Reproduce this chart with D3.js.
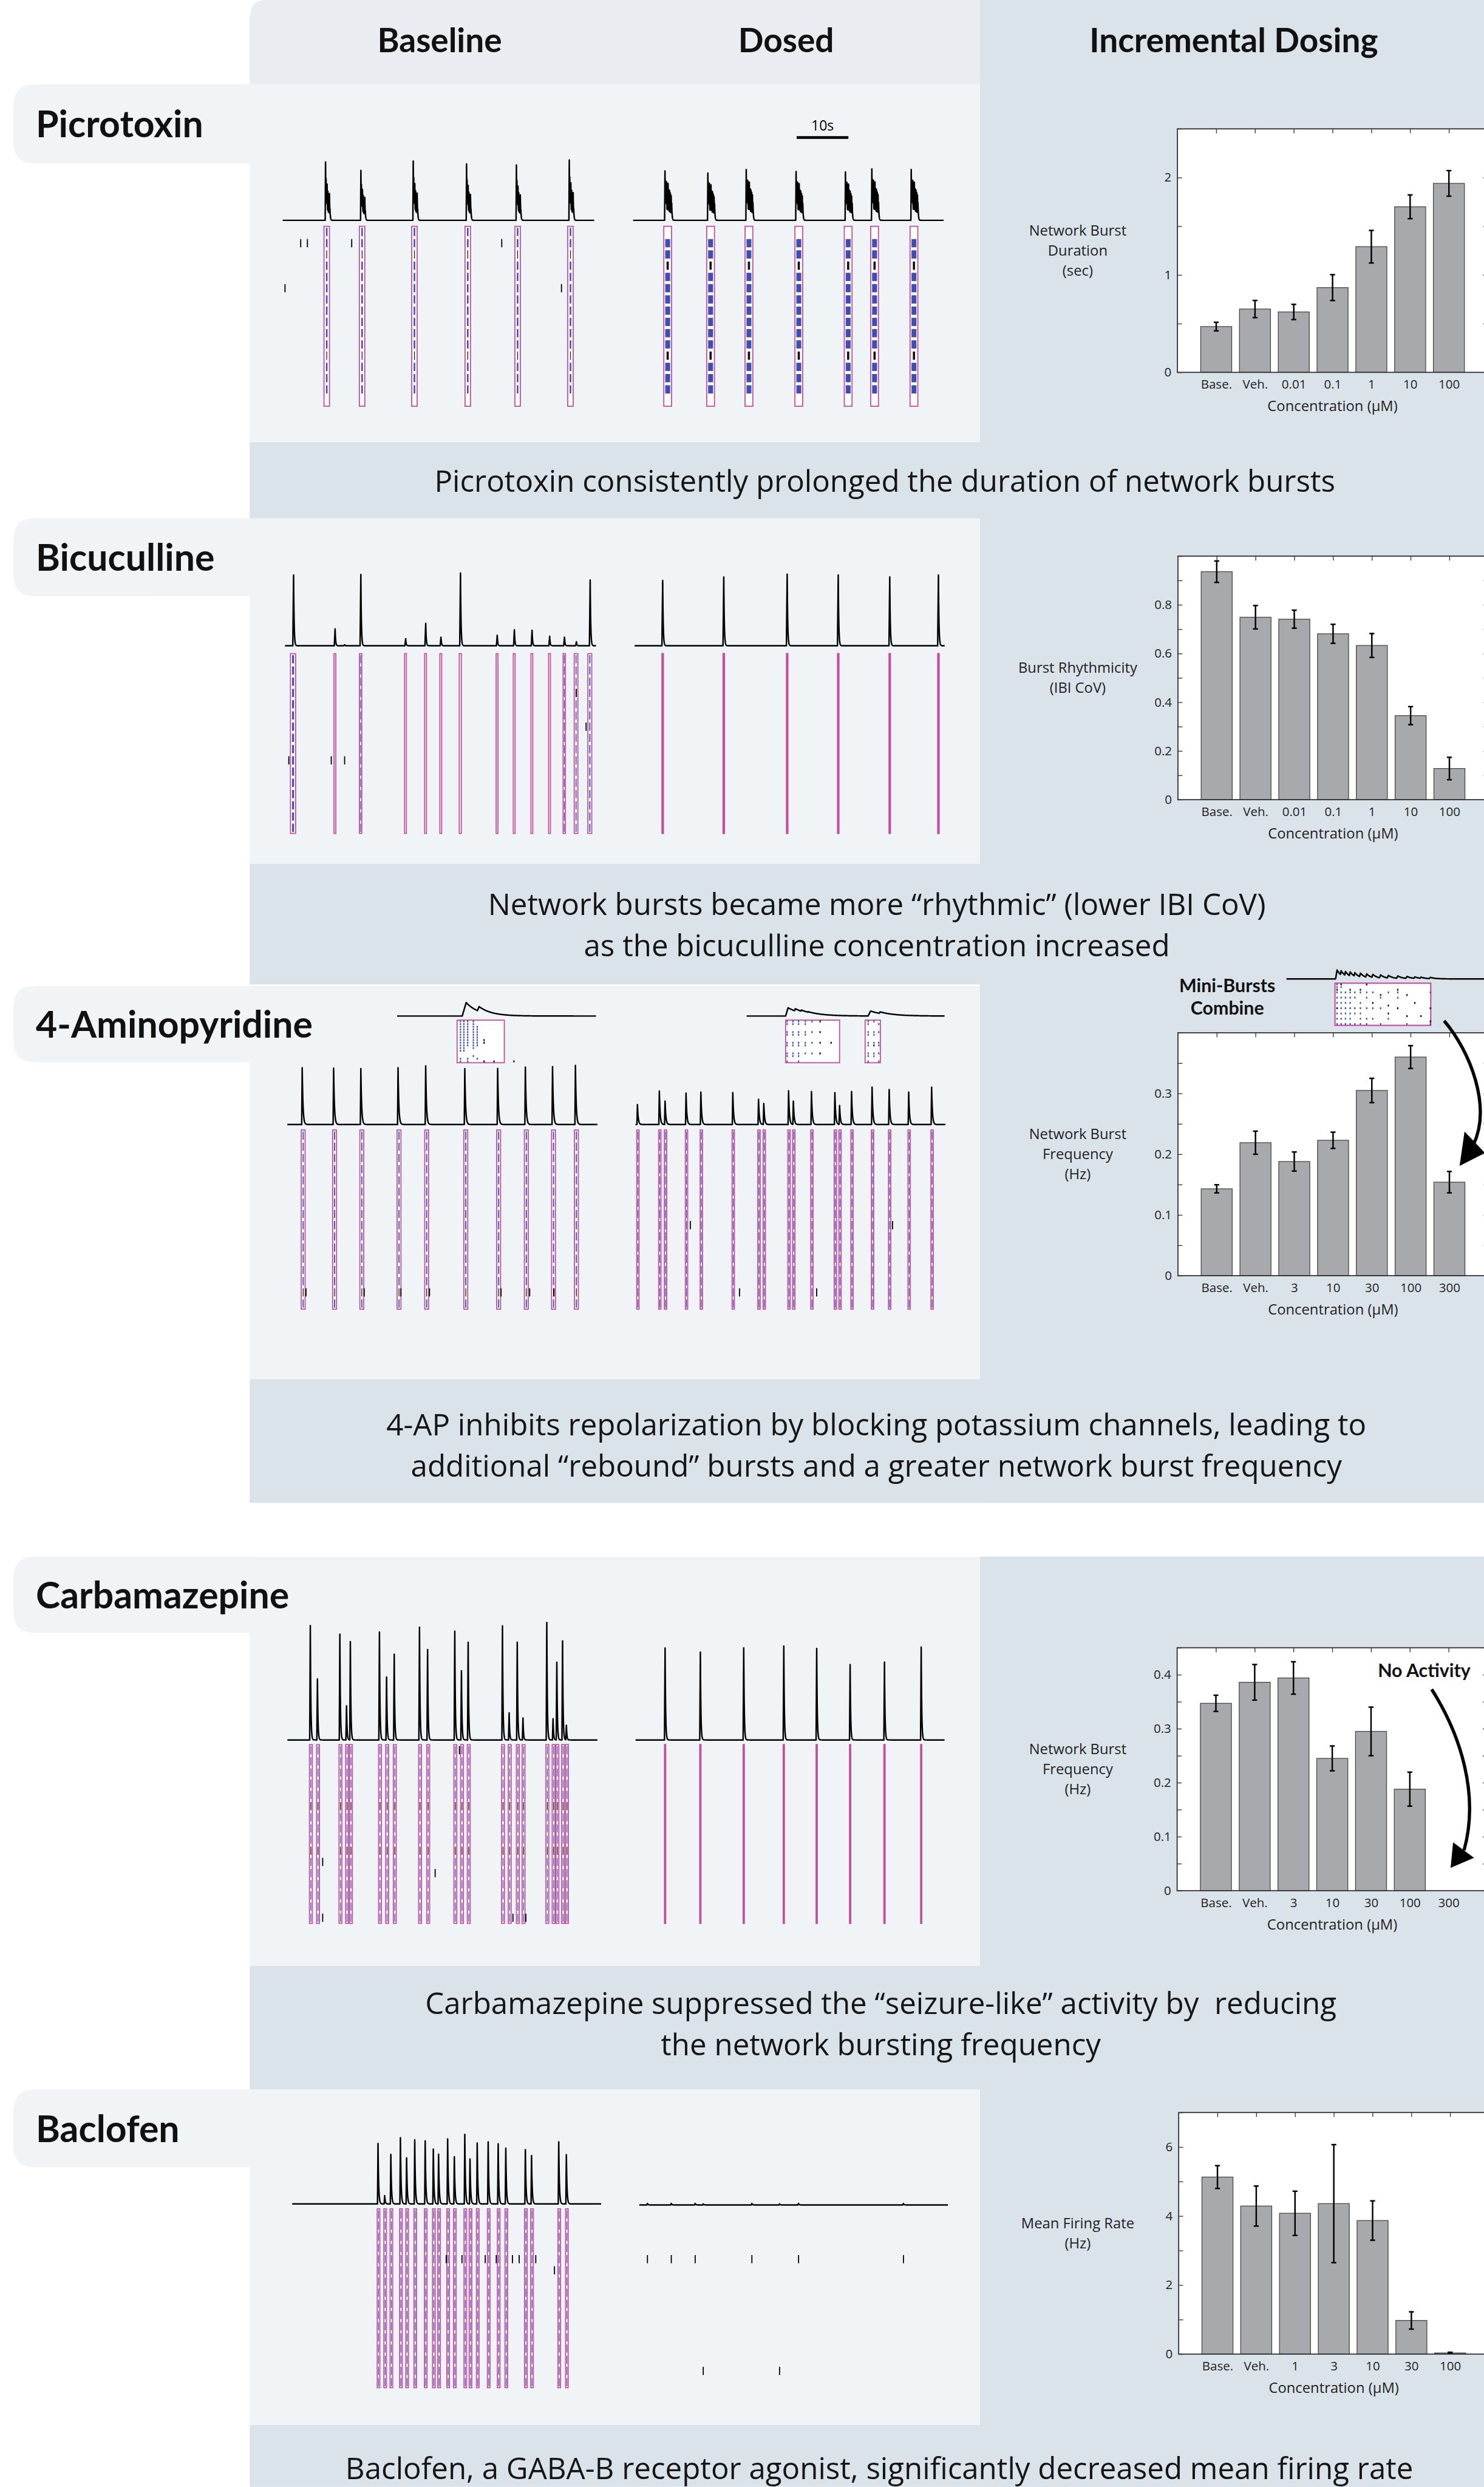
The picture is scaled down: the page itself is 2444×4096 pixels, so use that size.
<!DOCTYPE html>
<html>
<head>
<meta charset="utf-8">
<script src="https://cdn.jsdelivr.net/npm/d3@7/dist/d3.min.js"></script>
<style>
html,body{margin:0;padding:0;background:#ffffff;}
svg{display:block;}
</style>
</head>
<body>
<svg id="fig" width="2444" height="4096"></svg>
<script>
// ================= DATA =================
const columnTitles = ["Baseline", "Dosed", "Incremental Dosing"];
const drugNames = ["Picrotoxin", "Bicuculline", "4-Aminopyridine", "Carbamazepine", "Baclofen"];
const captionLines = [
  ["Picrotoxin consistently prolonged the duration of network bursts"],
  ["Network bursts became more \u201crhythmic\u201d (lower IBI CoV)", "as the bicuculline concentration increased"],
  ["4-AP inhibits repolarization by blocking potassium channels, leading to", "additional \u201crebound\u201d bursts and a greater network burst frequency"],
  ["Carbamazepine suppressed the \u201cseizure-like\u201d activity by  reducing", "the network bursting frequency"],
  ["Baclofen, a GABA-B receptor agonist, significantly decreased mean firing rate"]
];

// ---- bar charts (mean +/- error) ----
const picroConc = ["Base.", "Veh.", "0.01", "0.1", "1", "10", "100"];
const picroMean = [0.47, 0.65, 0.62, 0.87, 1.29, 1.70, 1.94];
const picroErr  = [0.044, 0.088, 0.078, 0.133, 0.167, 0.122, 0.131];
const picroYTicks = [0, 1, 2];

const bicuConc = ["Base.", "Veh.", "0.01", "0.1", "1", "10", "100"];
const bicuMean = [0.936, 0.749, 0.741, 0.681, 0.633, 0.345, 0.128];
const bicuErr  = [0.044, 0.048, 0.037, 0.039, 0.049, 0.037, 0.046];
const bicuYTicks = [0, 0.2, 0.4, 0.6, 0.8];

const fourConc = ["Base.", "Veh.", "3", "10", "30", "100", "300"];
const fourMean = [0.143, 0.219, 0.188, 0.223, 0.305, 0.360, 0.154];
const fourErr  = [0.0067, 0.019, 0.0157, 0.0134, 0.020, 0.0188, 0.0176];
const fourYTicks = [0, 0.1, 0.2, 0.3];

const carbConc = ["Base.", "Veh.", "3", "10", "30", "100", "300"];
const carbMean = [0.347, 0.386, 0.394, 0.245, 0.295, 0.188, null];
const carbErr  = [0.015, 0.033, 0.030, 0.023, 0.045, 0.0315, null];
const carbYTicks = [0, 0.1, 0.2, 0.3, 0.4];

const baclConc = ["Base.", "Veh.", "1", "3", "10", "30", "100"];
const baclMean = [5.13, 4.29, 4.08, 4.36, 3.87, 0.975, 0.034];
const baclErr  = [0.33, 0.58, 0.64, 1.71, 0.57, 0.25, 0.02];
const baclYTicks = [0, 2, 4, 6];

// ---- network activity traces: burst peak times (s) and amplitudes (a.u.) ----
const picroBaseTimes = [8.26, 15.07, 25.15, 35.42, 45.02, 55.20];
const picroBaseAmps  = [1.17, 1.00, 1.19, 1.13, 1.11, 1.21];
const picroDoseTimes = [6.16, 14.45, 21.86, 31.49, 41.03, 46.13, 53.74];
const picroDoseAmps  = [0.99, 0.95, 1.02, 0.98, 0.97, 1.03, 1.02];
const picroBaseLone  = [[3.48, 1], [4.77, 1], [13.3, 1], [42.2, 1], [0.46, 5], [53.7, 5]];

const bicuBaseTimes = [1.65, 9.66, 11.50, 14.63, 23.28, 27.15, 30.09, 33.86, 40.95, 44.26, 47.67, 51.07, 53.93, 56.23, 58.89];
const bicuBaseAmps  = [1.42, 0.34, 0.02, 1.43, 0.14, 0.45, 0.17, 1.46, 0.21, 0.32, 0.31, 0.19, 0.17, 0.08, 1.32];
const bicuBaseDur   = [1.0, 0.35, 0, 0.45, 0.35, 0.35, 0.35, 0.4, 0.35, 0.35, 0.35, 0.35, 0.45, 0.7, 0.75];
const bicuDoseTimes = [5.44, 17.26, 29.53, 39.41, 49.38, 58.80];
const bicuDoseAmps  = [1.31, 1.38, 1.435, 1.42, 1.38, 1.42];
const bicuBaseLone  = [[0.73, 9], [8.92, 9], [11.5, 9], [56.2, 3], [58.1, 6]];

const fourBaseTimes = [2.87, 8.95, 14.22, 21.42, 26.77, 34.34, 40.70, 46.06, 51.32, 55.75];
const fourBaseAmps  = [1.14, 1.13, 1.12, 1.14, 1.175, 1.12, 1.125, 1.15, 1.16, 1.185];
const fourDoseTimes = [0.37, 4.61, 5.72, 9.78, 12.65, 18.83, 23.81, 24.83, 29.63, 30.55, 34.06, 38.59, 39.50, 41.82, 45.79, 49.10, 52.88, 57.32];
const fourDoseAmps  = [0.40, 0.67, 0.47, 0.63, 0.65, 0.64, 0.505, 0.42, 0.675, 0.47, 0.66, 0.64, 0.38, 0.66, 0.75, 0.70, 0.65, 0.75];
const fourBaseLone  = [[3.6, 14], [14.87, 14], [21.97, 14], [27.51, 14], [41.35, 14], [46.89, 14], [51.6, 14]];
const fourDoseLone  = [[20.13, 14], [35.07, 14], [10.61, 8], [49.75, 8]];

// 4-AP zoomed single bursts (4 s windows)
const insetBaseTimes = [1.39, 1.65];
const insetBaseAmps  = [0.27, 0.19];
const insetBaseBoxes = [[1.207, 2.157]];
const insetBaseCols  = [1.275, 1.343, 1.42, 1.534, 1.612];
const insetBaseColRows = [[0,1,2,3,4,5,6,7,8,9,10,11,14,15],[0,1,2,3,4,5,6,7,8,9,10,11],[0,1,2,3,4,5,6,7,8,9,14,15],[0,1,2,3,4,5,6,7,8,9,10,13],[2,3,4,5,6,7,8,9,14]];
const insetBaseBlack = [[1.75, 7], [1.75, 8], [1.75, 15], [1.95, 15], [2.35, 15]];
const insetDoseTimes = [0.838, 0.983, 1.108, 1.243, 2.505, 2.698];
const insetDoseAmps  = [0.165, 0.147, 0.12, 0.087, 0.10, 0.083];
const insetDoseBoxes = [[0.788, 1.879], [2.395, 2.703]];
const insetDoseCols  = [0.819, 0.935, 1.05, 1.186, 1.321, 2.457, 2.573, 2.67];
const insetDoseColRows = [[0,1,4,5,8,9,12,13,15],[0,1,4,5,8,9,12,13],[0,1,4,5,8,9,12,13,15],[0,1,4,5,8,9,12],[0,4,8,12],[0,1,4,5,8,9,12,13,15],[0,4,5,8,12,13],[1,4,8,9,12,15]];
const insetDoseBlack = [[1.485, 0], [1.485, 4], [1.485, 8], [1.707, 8], [1.485, 12], [2.573, 9]];

// mini-bursts combining (300 uM 4-AP)
const miniTimes = [1.025, 1.107, 1.195, 1.29, 1.385, 1.498, 1.624, 1.749, 1.906, 2.064, 2.253, 2.441, 2.599, 2.724, 2.914];
const miniAmps  = [0.179, 0.165, 0.15, 0.14, 0.125, 0.115, 0.10, 0.09, 0.08, 0.07, 0.06, 0.05, 0.04, 0.035, 0.03];
const miniBox   = [[0.983, 2.922]];
const miniColRows = [[0,1,3,5,7,9,11,13,15],[1,3,5,7,9,11,13,15],[3,5,7,9,11,13,15],[3,5,7,9,11,13,15],[3,5,9,11,15],[3,7,9,11,13,15],[3,5,9,13,15],[3,9,13],[5,9,15],[3,13],[3,5],[15],[],[],[3,15]];
const miniBlack = [[1.025,2],[1.025,9],[1.107,0],[1.29,2],[1.498,2],[1.624,0],[1.749,7],[1.906,4],[2.064,8],[2.064,11],[2.253,2],[2.253,9],[2.441,4],[2.441,12],[2.599,7],[2.724,12],[2.914,9],[2.914,14]];

const carbBaseTimes = [4.44, 5.82, 10.16, 11.45, 12.19, 17.82, 19.20, 20.68, 25.57, 27.14, 32.40, 33.69, 34.99, 41.63, 42.92, 44.49, 45.60, 50.21, 51.42, 52.15, 53.26, 54.00];
const carbBaseAmps  = [2.295, 1.223, 2.121, 0.683, 1.973, 2.165, 1.263, 1.719, 2.263, 1.813, 2.183, 1.388, 1.96, 2.29, 0.545, 1.96, 0.442, 2.357, 0.424, 1.558, 1.987, 0.295];
const carbDoseTimes = [5.74, 12.59, 21.01, 28.79, 35.18, 41.67, 48.34, 55.47];
const carbDoseAmps  = [1.844, 1.763, 1.848, 1.884, 1.835, 1.513, 1.562, 1.862];
const carbBaseLone  = [[6.83, 10], [28.6, 11], [33.3, 0], [6.83, 15], [43.66, 15], [46.16, 15]];

const baclBaseTimes = [16.67, 17.96, 19.16, 21.02, 22.22, 23.80, 25.83, 27.41, 28.43, 30.19, 31.49, 33.52, 34.53, 35.93, 38.06, 40.00, 41.48, 45.28, 46.48, 51.76, 53.24];
const baclBaseAmps  = [1.214, 0.166, 0.993, 1.329, 0.925, 1.285, 1.265, 1.099, 0.996, 1.305, 0.945, 1.396, 0.902, 1.221, 1.245, 1.206, 1.119, 1.087, 0.969, 1.245, 0.988];
const baclDoseTimes = [1.58, 6.22, 10.86, 12.43, 21.89, 27.27, 30.97, 51.36];
const baclDoseAmps  = [0.03, 0.03, 0.03, 0.02, 0.03, 0.02, 0.03, 0.03];
const baclBaseLone  = [[29.91, 4], [32.97, 4], [37.49, 4], [39.63, 4], [42.78, 4], [44.08, 4], [47.3, 4], [50.93, 5]];
const baclDoseLone  = [[1.58, 4], [6.22, 4], [10.86, 4], [21.89, 4], [30.97, 4], [51.36, 4], [12.43, 14], [27.27, 14]];

// burst waveform templates: [offset (s), relative amplitude]
const spikeShape = [[0, 1]];
const picroBaseShape = [[0,1],[0.1,0.72],[0.2,0.6],[0.3,0.62],[0.45,0.5],[0.6,0.42],[0.75,0.46],[0.85,0.2]];
const picroDoseShape = [[0,1],[0.1,0.8],[0.2,0.72],[0.3,0.78],[0.45,0.7],[0.6,0.75],[0.75,0.62],[0.9,0.6],[1.05,0.55],[1.2,0.5],[1.3,0.35]];

// ================= STYLE / LAYOUT =================
const S = 2444 / 2977;
const C = { header: "#e9edf2", panel: "#f0f4f7", dark: "#dae2ea", mag: "#c2509f", blue: "#3d4fb0", bar: "#a8a9ad", barStroke: "#4a4a4a" };
const FT = "Lato, 'Open Sans', sans-serif";
const FC = "'Open Sans', 'Noto Sans', sans-serif";
const LAY = {
  px0: 501, px1: 1966, W: 2977, H: 4989, headerBottom: 169, gap: [3015, 3123],
  sections: [
    { top: 169,  pillBot: 328,  panelBot: 887,  capBot: 1040, capY: [987],        capX: 1775 },
    { top: 1040, pillBot: 1196, panelBot: 1733, capBot: 1975, capY: [1836, 1919], capX: 1759 },
    { top: 1978, pillBot: 2131, panelBot: 2767, capBot: 3015, capY: [2879, 2962], capX: 1758 },
    { top: 3123, pillBot: 3276, panelBot: 3944, capBot: 4192, capY: [4040, 4123], capX: 1767 },
    { top: 4192, pillBot: 4348, panelBot: 4865, capBot: 4989, capY: [4973],       capX: 1764 }
  ],
  charts: [
    { left: 2362, top: 258.5, zero: 747 },
    { left: 2363, top: 1115.6, zero: 1604.3 },
    { left: 2363, top: 2071.9, zero: 2559.2 },
    { left: 2361.4, top: 3305.6, zero: 3792.9 },
    { left: 2364.5, top: 4238, zero: 4722.7 }
  ]
};

const svg = d3.select("#fig");
const root = svg.append("g").attr("transform", `scale(${S})`);

// ---------- backgrounds ----------
root.append("rect").attr("width", LAY.W).attr("height", LAY.H).attr("fill", "#fff");
root.append("rect").attr("x", LAY.px1).attr("y", 0).attr("width", LAY.W - LAY.px1).attr("height", LAY.gap[0]).attr("fill", C.dark);
root.append("rect").attr("x", LAY.px1).attr("y", LAY.gap[1]).attr("width", LAY.W - LAY.px1).attr("height", LAY.H - LAY.gap[1]).attr("fill", C.dark);
root.append("path").attr("d", `M${LAY.px0},40 Q${LAY.px0},0 ${LAY.px0 + 30},0 L${LAY.px1},0 L${LAY.px1},${LAY.headerBottom} L${LAY.px0},${LAY.headerBottom} Z`).attr("fill", C.header);

LAY.sections.forEach((s, i) => {
  root.append("rect").attr("x", LAY.px0).attr("y", s.top).attr("width", LAY.px1 - LAY.px0).attr("height", s.panelBot - s.top).attr("fill", C.panel);
  root.append("rect").attr("x", LAY.px0).attr("y", s.panelBot).attr("width", LAY.W - LAY.px0).attr("height", s.capBot - s.panelBot).attr("fill", C.dark);
  const r = 42, x0 = 27;
  root.append("path").attr("d", `M${LAY.px0 + 2},${s.top} L${x0 + r},${s.top} Q${x0},${s.top} ${x0},${s.top + r} L${x0},${s.pillBot - r} Q${x0},${s.pillBot} ${x0 + r},${s.pillBot} L${LAY.px0 + 2},${s.pillBot} Z`).attr("fill", C.panel);
  root.append("text").attr("x", 72).attr("y", (s.top + s.pillBot) / 2 + 27).text(drugNames[i])
    .attr("font-family", FT).attr("font-weight", 700).attr("font-size", 74).attr("fill", "#111");
  root.append("g").selectAll("text").data(captionLines[i]).join("text")
    .attr("x", s.capX).attr("y", (d, j) => s.capY[j]).attr("text-anchor", "middle")
    .attr("font-family", FC).attr("font-size", 60).attr("fill", "#151515").attr("xml:space", "preserve").text(d => d);
});

// column headers
const headerX = [882, 1577, 2475];
root.append("g").selectAll("text").data(columnTitles).join("text")
  .attr("x", (d, i) => headerX[i]).attr("y", 105).attr("text-anchor", "middle")
  .attr("font-family", FT).attr("font-weight", 700).attr("font-size", 67).attr("fill", "#111").text(d => d);

// ---------- trace helpers ----------
function drawTrace(parent, t) {
  const x = d3.scaleLinear().domain(t.domain || [0, 60]).range([t.x0, t.x1]);
  const y = d3.scaleLinear().domain([0, 1]).range([t.y, t.y - 100]);
  const [d0, d1] = x.domain();
  const n = t.samples || 6000;
  let ts = d3.range(n + 1).map(i => d0 + (d1 - d0) * i / n);
  t.times.forEach(p => t.shape.forEach(s => ts.push(p + s[0])));
  ts = ts.filter(v => v >= d0 && v <= d1).sort((a, b) => a - b);
  const val = v => {
    let m = 0;
    for (let i = 0; i < t.times.length; i++) {
      for (const [dt, r] of t.shape) {
        const s = v - (t.times[i] + dt);
        let k = 0;
        if (s < 0) { if (s > -t.rise) k = 1 + s / t.rise; }
        else k = Math.exp(-s / t.tau);
        const a = t.amps[i] * r * k;
        if (a > m) m = a;
      }
    }
    return m;
  };
  parent.append("path").datum(ts).attr("fill", "none").attr("stroke", "#000")
    .attr("stroke-width", t.sw || 3).attr("stroke-linejoin", "round")
    .attr("d", d3.line().x(v => x(v)).y(v => y(val(v))));
  return x;
}

function drawRaster(parent, x, r) {
  const rows = 16, rh = (r.y1 - r.y0) / rows;
  const g = parent.append("g");
  const boxes = r.boxes || r.times.map((t, i) => {
    const d = Array.isArray(r.dur) ? r.dur[i] : r.dur;
    return d > 0 ? [t - d * r.pre, t + d * (1 - r.pre)] : null;
  }).filter(b => b);
  const bg = g.selectAll("g.box").data(boxes).join("g").attr("class", "box");
  bg.append("rect").attr("x", b => x(b[0])).attr("y", r.y0).attr("width", b => x(b[1]) - x(b[0]))
    .attr("height", r.y1 - r.y0).attr("fill", "#fff").attr("stroke", C.mag).attr("stroke-width", r.sw || 2.2);
  if (r.frac > 0) {
    bg.each(function (b) {
      const bx = x(b[0]), bw = x(b[1]) - x(b[0]);
      if (bw < 4.4) return;
      const iw = Math.max(1.5, (bw - 4) * r.frac);
      const wOf = row => r.blackRows.includes(row) ? Math.max(1.5, iw * 0.45) : iw;
      d3.select(this).selectAll("rect.row").data(r.blueRows).join("rect").attr("class", "row")
        .attr("x", row => bx + (bw - wOf(row)) / 2)
        .attr("width", wOf)
        .attr("y", row => r.y0 + row * rh + 3).attr("height", rh - 6)
        .attr("fill", row => r.blackRows.includes(row) ? "#111" : C.blue);
    });
  }
  g.selectAll("line.lone").data(r.lone || []).join("line").attr("class", "lone")
    .attr("x1", d => x(d[0])).attr("x2", d => x(d[0]))
    .attr("y1", d => r.y0 + d[1] * rh + 3).attr("y2", d => r.y0 + (d[1] + 1) * rh - 3)
    .attr("stroke", "#000").attr("stroke-width", 2.2);
}

function drawDots(parent, x, y0, y1, cols, colRows, black, color) {
  const rh = (y1 - y0) / 16;
  const pts = [];
  cols.forEach((t, i) => colRows[i].forEach(row => pts.push([t, row, color])));
  black.forEach(([t, row]) => pts.push([t, row, "#000"]));
  parent.append("g").selectAll("rect").data(pts).join("rect")
    .attr("x", d => x(d[0]) - 1.3).attr("width", 2.6)
    .attr("y", d => y0 + d[1] * rh + 0.8).attr("height", rh - 1.6)
    .attr("fill", d => d[2]);
}

const tg = root.append("g");
const fullRows = d3.range(16);

// ---- Picrotoxin ----
{
  const xb = drawTrace(tg, { x0: 567, x1: 1192, y: 442, times: picroBaseTimes, amps: picroBaseAmps, shape: picroBaseShape, rise: 0.07, tau: 0.08 });
  drawRaster(tg, xb, { y0: 454, y1: 815, times: picroBaseTimes, dur: 1.05, pre: 0.28, frac: 0.45, blueRows: d3.range(15), blackRows: [2, 11], lone: picroBaseLone });
  const xd = drawTrace(tg, { x0: 1270, x1: 1893, y: 442, times: picroDoseTimes, amps: picroDoseAmps, shape: picroDoseShape, rise: 0.07, tau: 0.08 });
  drawRaster(tg, xd, { y0: 454, y1: 815, times: picroDoseTimes, dur: 1.5, pre: 0.15, frac: 0.85, blueRows: d3.range(1, 15), blackRows: [3, 11], lone: [] });
  // 10 s scale bar
  tg.append("line").attr("x1", xd(31.6)).attr("x2", xd(41.6)).attr("y1", 276).attr("y2", 276).attr("stroke", "#000").attr("stroke-width", 5.5);
  tg.append("text").attr("x", xd(36.6)).attr("y", 262).attr("text-anchor", "middle").attr("font-family", FC).attr("font-size", 28).text("10s");
}
// ---- Bicuculline ----
{
  const xb = drawTrace(tg, { x0: 571.8, x1: 1195.5, y: 1295.5, times: bicuBaseTimes, amps: bicuBaseAmps, shape: spikeShape, rise: 0.15, tau: 0.1 });
  drawRaster(tg, xb, { y0: 1311.3, y1: 1671.9, times: bicuBaseTimes, dur: bicuBaseDur, pre: 0.6, frac: 0.6, blueRows: fullRows, blackRows: [], lone: bicuBaseLone });
  const xd = drawTrace(tg, { x0: 1273, x1: 1895, y: 1295.5, times: bicuDoseTimes, amps: bicuDoseAmps, shape: spikeShape, rise: 0.15, tau: 0.1 });
  drawRaster(tg, xd, { y0: 1311.3, y1: 1671.9, times: bicuDoseTimes, dur: 0.25, pre: 0.5, frac: 0, blueRows: [], blackRows: [], lone: [], sw: 2.6 });
}
// ---- 4-Aminopyridine ----
{
  const xb = drawTrace(tg, { x0: 576.5, x1: 1198.4, y: 2255.9, times: fourBaseTimes, amps: fourBaseAmps, shape: spikeShape, rise: 0.1, tau: 0.15 });
  drawRaster(tg, xb, { y0: 2266.9, y1: 2626.4, times: fourBaseTimes, dur: 0.75, pre: 0.25, frac: 0.6, blueRows: fullRows, blackRows: [14], lone: fourBaseLone });
  const xd = drawTrace(tg, { x0: 1274.9, x1: 1896.7, y: 2255.9, times: fourDoseTimes, amps: fourDoseAmps, shape: spikeShape, rise: 0.1, tau: 0.15 });
  drawRaster(tg, xd, { y0: 2266.9, y1: 2626.4, times: fourDoseTimes, dur: 0.45, pre: 0.3, frac: 0.6, blueRows: fullRows, blackRows: [], lone: fourDoseLone });
  // zoomed single bursts
  const xib = drawTrace(tg, { domain: [0, 4], x0: 796.6, x1: 1195.5, y: 2038.3, times: insetBaseTimes, amps: insetBaseAmps, shape: spikeShape, rise: 0.08, tau: 0.25, sw: 3 });
  drawRaster(tg, xib, { y0: 2046.5, y1: 2132, boxes: insetBaseBoxes, frac: 0, blueRows: [], blackRows: [], lone: [] });
  drawDots(tg, xib, 2046.5, 2132, insetBaseCols, insetBaseColRows, insetBaseBlack, C.blue);
  const xid = drawTrace(tg, { domain: [0, 4], x0: 1497.8, x1: 1894.8, y: 2038.3, times: insetDoseTimes, amps: insetDoseAmps, shape: spikeShape, rise: 0.05, tau: 0.3, sw: 3 });
  drawRaster(tg, xid, { y0: 2046.5, y1: 2132, boxes: insetDoseBoxes, frac: 0, blueRows: [], blackRows: [], lone: [] });
  drawDots(tg, xid, 2046.5, 2132, insetDoseCols, insetDoseColRows, insetDoseBlack, C.blue);
  // mini-bursts combine (right column)
  const xm = drawTrace(tg, { domain: [0, 4], x0: 2580.7, x1: 2977, y: 1963.8, times: miniTimes, amps: miniAmps, shape: spikeShape, rise: 0.03, tau: 0.1, sw: 3 });
  drawRaster(tg, xm, { y0: 1972.4, y1: 2057, boxes: miniBox, frac: 0, blueRows: [], blackRows: [], lone: [], sw: 2.6 });
  drawDots(tg, xm, 1972.4, 2057, miniTimes, miniColRows, miniBlack, C.blue);
}
// ---- Carbamazepine ----
{
  const xb = drawTrace(tg, { x0: 576.5, x1: 1198.4, y: 3490.6, times: carbBaseTimes, amps: carbBaseAmps, shape: spikeShape, rise: 0.12, tau: 0.1 });
  drawRaster(tg, xb, { y0: 3500, y1: 3858.5, times: carbBaseTimes, dur: 0.55, pre: 0.3, frac: 0.6, blueRows: fullRows, blackRows: [5, 9], lone: carbBaseLone });
  const xd = drawTrace(tg, { x0: 1274.9, x1: 1894.8, y: 3490.6, times: carbDoseTimes, amps: carbDoseAmps, shape: spikeShape, rise: 0.12, tau: 0.1 });
  drawRaster(tg, xd, { y0: 3500, y1: 3858.5, times: carbDoseTimes, dur: 0.2, pre: 0.5, frac: 0, blueRows: [], blackRows: [], lone: [], sw: 2.6 });
}
// ---- Baclofen ----
{
  const xb = drawTrace(tg, { x0: 586.1, x1: 1206, y: 4421.4, times: baclBaseTimes, amps: baclBaseAmps, shape: spikeShape, rise: 0.1, tau: 0.12 });
  drawRaster(tg, xb, { y0: 4431.3, y1: 4790, times: baclBaseTimes, dur: 0.5, pre: 0.3, frac: 0.5, blueRows: fullRows, blackRows: [], lone: baclBaseLone });
  const xd = drawTrace(tg, { x0: 1282.5, x1: 1901.5, y: 4423.4, times: baclDoseTimes, amps: baclDoseAmps, shape: spikeShape, rise: 0.1, tau: 0.12 });
  drawRaster(tg, xd, { y0: 4431.3, y1: 4790, times: [], dur: 0, pre: 0, frac: 0, blueRows: [], blackRows: [], lone: baclDoseLone });
}

// ---------- bar charts ----------
const chartSpecs = [
  { labels: picroConc, mean: picroMean, err: picroErr, ymax: 2.5, step: 0.5, yLabels: picroYTicks, ylab: ["Network Burst", "Duration", "(sec)"] },
  { labels: bicuConc, mean: bicuMean, err: bicuErr, ymax: 1.0, step: 0.1, yLabels: bicuYTicks, ylab: ["Burst Rhythmicity", "(IBI CoV)"] },
  { labels: fourConc, mean: fourMean, err: fourErr, ymax: 0.4, step: 0.05, yLabels: fourYTicks, ylab: ["Network Burst", "Frequency", "(Hz)"] },
  { labels: carbConc, mean: carbMean, err: carbErr, ymax: 0.45, step: 0.05, yLabels: carbYTicks, ylab: ["Network Burst", "Frequency", "(Hz)"] },
  { labels: baclConc, mean: baclMean, err: baclErr, ymax: 7, step: 1, yLabels: baclYTicks, ylab: ["Mean Firing Rate", "(Hz)"] }
];
const fmt = v => String(+v.toFixed(3));

chartSpecs.forEach((c, ci) => {
  const p = LAY.charts[ci];
  const n = c.labels.length;
  const g = root.append("g");
  const x = d3.scaleLinear().domain([0, n + 1]).range([p.left, p.left + 77.8 * (n + 1)]);
  const y = d3.scaleLinear().domain([0, c.ymax]).range([p.zero, p.top]);
  g.append("rect").attr("x", x(0)).attr("y", y(c.ymax)).attr("width", x(n + 1) - x(0)).attr("height", y(0) - y(c.ymax)).attr("fill", "#fff");
  const data = c.labels.map((l, i) => ({ i: i + 1, m: c.mean[i], e: c.err[i] })).filter(d => d.m != null);
  g.selectAll("rect.bar").data(data).join("rect").attr("class", "bar")
    .attr("x", d => x(d.i - 0.4)).attr("width", x(0.8) - x(0))
    .attr("y", d => y(d.m)).attr("height", d => y(0) - y(d.m))
    .attr("fill", C.bar).attr("stroke", C.barStroke).attr("stroke-width", 1.6);
  const eb = g.selectAll("g.eb").data(data).join("g").attr("class", "eb").attr("stroke", "#000").attr("stroke-width", 3);
  eb.append("line").attr("x1", d => x(d.i)).attr("x2", d => x(d.i)).attr("y1", d => y(d.m - d.e)).attr("y2", d => y(d.m + d.e));
  eb.append("line").attr("x1", d => x(d.i) - 5).attr("x2", d => x(d.i) + 5).attr("y1", d => y(d.m - d.e)).attr("y2", d => y(d.m - d.e));
  eb.append("line").attr("x1", d => x(d.i) - 5).attr("x2", d => x(d.i) + 5).attr("y1", d => y(d.m + d.e)).attr("y2", d => y(d.m + d.e));

  const yt = d3.range(0, c.ymax + c.step / 2, c.step);
  const isLab = v => c.yLabels.some(l => Math.abs(l - v) < 1e-9);
  const style = a => {
    a.select(".domain").remove();
    a.selectAll(".tick line").attr("stroke", "#333").attr("stroke-width", 1.6);
    a.selectAll(".tick text").attr("font-family", FC).attr("font-size", 25).attr("fill", "#222");
  };
  g.append("g").attr("transform", `translate(${x(0)},0)`)
    .call(d3.axisLeft(y).tickValues(yt).tickSize(-9).tickPadding(12).tickFormat(v => isLab(v) ? fmt(v) : "")).call(style);
  g.append("g").attr("transform", `translate(${x(n + 1)},0)`)
    .call(d3.axisRight(y).tickValues(yt).tickSize(-9).tickFormat(() => "")).call(style);
  const xt = d3.range(1, n + 1);
  g.append("g").attr("transform", `translate(0,${y(c.ymax)})`)
    .call(d3.axisTop(x).tickValues(xt).tickSize(-9).tickFormat(() => "")).call(style);
  g.append("g").attr("transform", `translate(0,${y(0)})`)
    .call(d3.axisBottom(x).tickValues(xt).tickSize(0).tickPadding(15).tickFormat(i => c.labels[i - 1])).call(style);
  g.append("rect").attr("x", x(0)).attr("y", y(c.ymax)).attr("width", x(n + 1) - x(0)).attr("height", y(0) - y(c.ymax))
    .attr("fill", "none").attr("stroke", "#333").attr("stroke-width", 2.2);
  g.append("text").attr("x", x(n / 2 + 0.5)).attr("y", p.zero + 78).attr("text-anchor", "middle")
    .attr("font-family", FC).attr("font-size", 29).attr("fill", "#222").text("Concentration (\u03bcM)");
  const mid = (p.top + p.zero) / 2, lh = 40.5;
  g.selectAll("text.ylab").data(c.ylab).join("text").attr("class", "ylab")
    .attr("x", 2162).attr("y", (d, j) => mid + (j - (c.ylab.length - 1) / 2) * lh + 10)
    .attr("text-anchor", "middle").attr("font-family", FC).attr("font-size", 29).attr("fill", "#222").text(d => d);
});

// ---------- annotations ----------
const ann = root.append("g");
ann.selectAll("text.mb").data(["Mini-Bursts", "Combine"]).join("text").attr("class", "mb")
  .attr("x", 2462).attr("y", (d, i) => 1990 + i * 46).attr("text-anchor", "middle")
  .attr("font-family", FT).attr("font-weight", 700).attr("font-size", 37).attr("fill", "#111").text(d => d);
ann.append("text").attr("x", 2857).attr("y", 3364).attr("text-anchor", "middle")
  .attr("font-family", FT).attr("font-weight", 700).attr("font-size", 37).attr("fill", "#111").text("No Activity");

function arrow(pathD, tip, b1, b2) {
  ann.append("path").attr("d", pathD).attr("fill", "none").attr("stroke", "#000").attr("stroke-width", 6.5);
  ann.append("path").attr("d", `M${tip[0]},${tip[1]} L${b1[0]},${b1[1]} L${b2[0]},${b2[1]} Z`).attr("fill", "#000");
}
arrow("M2897,2048 C2950,2110 2992,2220 2956,2296", [2928, 2339], [2938, 2270], [2979, 2313]);
arrow("M2872,3389 C2930,3480 2968,3600 2937,3712", [2910, 3747], [2915, 3696], [2957, 3727]);
</script>
</body>
</html>
